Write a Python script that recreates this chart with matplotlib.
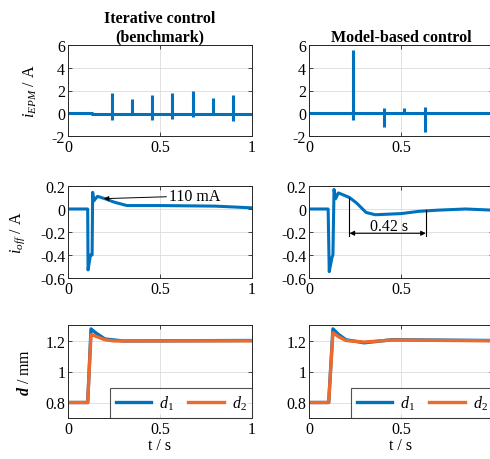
import matplotlib
matplotlib.use("Agg")
import matplotlib.pyplot as plt

plt.rcParams['font.family'] = ['Liberation Serif', 'DejaVu Serif']
plt.rcParams['mathtext.fontset'] = 'custom'
plt.rcParams['mathtext.rm'] = 'Liberation Serif'
plt.rcParams['mathtext.it'] = 'Liberation Serif:italic'
plt.rcParams['mathtext.bf'] = 'Liberation Serif:bold:italic'
plt.rcParams['axes.unicode_minus'] = False

BLUE = '#0072BD'
ORANGE = '#EC6A2C'
FS = 11.5

# ---------------- data ----------------
# top row: i_EPM spikes
epm_base_L_t = [0, 0.13, 0.13, 1.0]
epm_base_L_v = [0.05, 0.05, -0.03, -0.03]
epm_spk_L_t = [0.239, 0.348, 0.457, 0.567, 0.679, 0.789, 0.898]
epm_spk_L_hi = [1.8, 1.23, 1.57, 1.77, 1.94, 1.37, 1.6]
epm_spk_L_lo = [-0.63, -0.06, -0.57, -0.54, -0.3, -0.1, -0.7]

epm_base_R_t = [0, 0.3, 0.3, 1.0]
epm_base_R_v = [0.03, 0.03, 0.0, 0.0]
epm_spk_R_t = [0.24, 0.41, 0.515, 0.63]
epm_spk_R_hi = [5.57, 0.47, 0.47, 0.59]
epm_spk_R_lo = [-0.62, -1.2, 0.0, -1.63]

# middle row: i_off
ioff_L_t = [0, 0.107, 0.109, 0.122, 0.131, 0.134, 0.14, 0.16, 0.2, 0.25, 0.32, 0.5, 0.8, 1.0]
ioff_L_v = [0, 0, -0.53, -0.40, -0.40, 0.145, 0.07, 0.11, 0.09, 0.06, 0.03, 0.03, 0.025, 0.01]

ioff_R_t = [0, 0.104, 0.11, 0.125, 0.13, 0.136, 0.145, 0.16, 0.22, 0.26, 0.31, 0.36, 0.5, 0.6, 0.7, 0.85, 1.0]
ioff_R_v = [0, 0, -0.545, -0.42, -0.40, 0.17, 0.09, 0.14, 0.10, 0.05, -0.03, -0.05, -0.04, -0.02, -0.01, 0.0, -0.01]

# bottom row: d1, d2
d1_L_t = [0, 0.107, 0.125, 0.15, 0.2, 0.3, 1.0]
d1_L_v = [0.8, 0.8, 1.275, 1.25, 1.21, 1.197, 1.2]
d2_L_t = [0, 0.107, 0.125, 0.15, 0.2, 0.25, 1.0]
d2_L_v = [0.8, 0.8, 1.238, 1.228, 1.205, 1.197, 1.198]

d1_R_t = [0, 0.107, 0.13, 0.16, 0.2, 0.3, 0.45, 1.0]
d1_R_v = [0.8, 0.8, 1.275, 1.24, 1.205, 1.185, 1.205, 1.2]
d2_R_t = [0, 0.107, 0.13, 0.16, 0.2, 0.3, 0.45, 1.0]
d2_R_v = [0.8, 0.8, 1.25, 1.225, 1.2, 1.19, 1.203, 1.198]

titles = ['Iterative control\n(benchmark)', 'Model-based control']
ylabels = [r'$i_{EPM}$ / A', r'$i_{off}$ / A', r'$\mathbf{d}$ / mm']
xticks = [0, 0.5, 1]
xticklabels_L = ['0', '0.5', '1']
xticklabels_R = ['0', '0.5', '']
yticks_top = [-2, 0, 2, 4, 6]
yticks_mid = [-0.6, -0.4, -0.2, 0, 0.2]
yticks_bot = [0.8, 1, 1.2]

# ---------------- figure ----------------
fig = plt.figure(figsize=(4.9, 4.6), dpi=100)
W = 184 / 490
xs = [68 / 490, 309 / 490]
rows = [(323 / 460, 91 / 460), (181 / 460, 92 / 460), (41 / 460, 93 / 460)]

axes = [[None, None] for _ in range(3)]
for r, (y0, h) in enumerate(rows):
    for c in range(2):
        ax = fig.add_axes([xs[c], y0, W, h])
        axes[r][c] = ax
        ax.set_xlim(0, 1)
        ax.set_xticks(xticks)
        ax.set_xticklabels(xticklabels_L if c == 0 else xticklabels_R)
        ax.grid(True, color='#DCDCDC', lw=0.6)
        ax.set_axisbelow(True)
        ax.tick_params(direction='in', length=3, width=0.6, top=True, right=True,
                       labelsize=FS, colors='#262626', pad=2)
        ax.tick_params(axis='x', labelcolor='black')
        ax.tick_params(axis='y', labelcolor='black')
        for s in ax.spines.values():
            s.set_color('#262626')
            s.set_linewidth(0.7)

# top row
for c, (bt, bv, st, hi, lo) in enumerate([
        (epm_base_L_t, epm_base_L_v, epm_spk_L_t, epm_spk_L_hi, epm_spk_L_lo),
        (epm_base_R_t, epm_base_R_v, epm_spk_R_t, epm_spk_R_hi, epm_spk_R_lo)]):
    ax = axes[0][c]
    ax.plot(bt, bv, color=BLUE, lw=2.2)
    ax.vlines(st, lo, hi, color=BLUE, lw=2.2)
    ax.set_ylim(-2, 6)
    ax.set_yticks(yticks_top)
    ax.set_title(titles[c], fontsize=FS, fontweight='bold', pad=3)

# middle row
for c, (t, v) in enumerate([(ioff_L_t, ioff_L_v), (ioff_R_t, ioff_R_v)]):
    ax = axes[1][c]
    ax.plot(t, v, color=BLUE, lw=2.2)
    ax.set_ylim(-0.6, 0.2)
    ax.set_yticks(yticks_mid)
    ax.set_yticklabels(['-0.6', '-0.4', '-0.2', '0', '0.2'])

axes[1][0].annotate('110 mA', xy=(0.195, 0.09), xytext=(0.55, 0.114),
                    fontsize=FS, ha='left', va='center',
                    arrowprops=dict(arrowstyle='-|>', color='k', lw=0.7,
                                    mutation_scale=7, shrinkA=0, shrinkB=0))
axR = axes[1][1]
axR.plot([0.22, 0.22], [0.097, -0.235], color='k', lw=0.8)
axR.plot([0.635, 0.635], [-0.005, -0.235], color='k', lw=0.8)
axR.annotate('', xy=(0.22, -0.211), xytext=(0.635, -0.211),
             arrowprops=dict(arrowstyle='<|-|>', color='k', lw=0.8,
                             mutation_scale=7, shrinkA=0, shrinkB=0))
axR.text(0.433, -0.147, '0.42 s', fontsize=FS, ha='center', va='center')

# bottom row
for c, (t1, v1, t2, v2) in enumerate([(d1_L_t, d1_L_v, d2_L_t, d2_L_v),
                                       (d1_R_t, d1_R_v, d2_R_t, d2_R_v)]):
    ax = axes[2][c]
    ax.plot(t1, v1, color=BLUE, lw=2.4, label=r'$d_1$')
    ax.plot(t2, v2, color=ORANGE, lw=2.4, label=r'$d_2$')
    ax.set_ylim(0.7, 1.3)
    ax.set_yticks(yticks_bot)
    ax.set_yticklabels(['0.8', '1', '1.2'])
    ax.set_xlabel('t / s', fontsize=FS, labelpad=0)
    leg = ax.legend(loc='lower right', ncol=2, fontsize=FS, frameon=True,
                    fancybox=False, borderaxespad=0, handlelength=2.2,
                    columnspacing=0.9, handletextpad=0.5, borderpad=0.35)
    leg.get_frame().set_edgecolor('#262626')
    leg.get_frame().set_linewidth(0.8)

for r in range(3):
    axes[r][0].set_ylabel(ylabels[r], fontsize=FS, labelpad=9)

fig.savefig('out.png', dpi=100)
